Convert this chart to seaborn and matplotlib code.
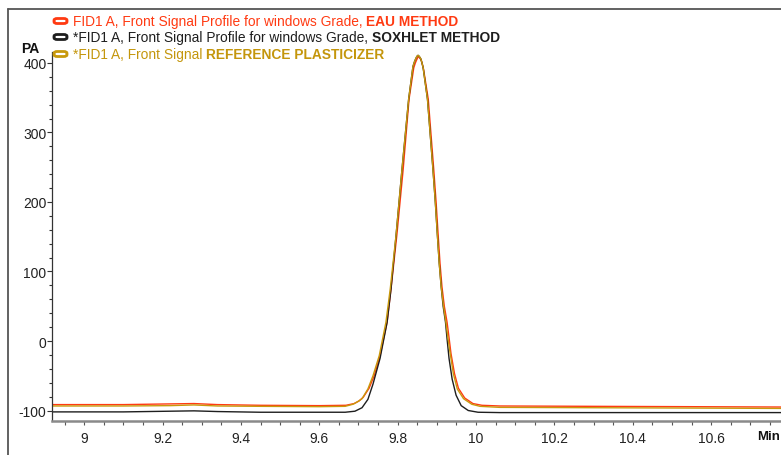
import matplotlib
matplotlib.use("Agg")
import matplotlib.pyplot as plt
import seaborn as sns
import pandas as pd
from matplotlib.patches import FancyBboxPatch
from matplotlib.lines import Line2D
from matplotlib.ticker import MultipleLocator

# ---- data ----
series_names = ["EAU METHOD", "SOXHLET METHOD", "REFERENCE PLASTICIZER"]

red_x = [8.918, 9.10, 9.22, 9.28, 9.34, 9.45, 9.60, 9.668, 9.689, 9.702, 9.712, 9.727, 9.740, 9.755,
         9.773, 9.783, 9.798, 9.814, 9.829, 9.841, 9.845, 9.848, 9.851, 9.853, 9.856, 9.860, 9.863,
         9.866, 9.878, 9.892, 9.898, 9.903, 9.908, 9.913, 9.919, 9.926, 9.931, 9.936, 9.945, 9.955,
         9.971, 9.992, 10.015, 10.061, 10.30, 10.55, 10.778]
red_y = [-91.5, -91.5, -90.5, -90, -91.5, -92.5, -93, -92.5, -90, -86, -81, -68, -50, -21, 27, 75,
         153, 247, 348, 393, 400, 404, 407.5, 409, 407.5, 404, 398, 391, 348, 247, 200, 155, 112,
         78, 50, 27, 5, -18, -47, -68, -82, -90, -92.5, -93.5, -94, -94.5, -95]

black_x = [8.918, 9.10, 9.22, 9.28, 9.34, 9.45, 9.60, 9.666, 9.691, 9.709, 9.724, 9.737, 9.755,
           9.773, 9.783, 9.796, 9.811, 9.828, 9.839, 9.843, 9.846, 9.849, 9.852, 9.855, 9.859,
           9.862, 9.865, 9.876, 9.890, 9.896, 9.901, 9.906, 9.911, 9.916, 9.922, 9.926, 9.931,
           9.939, 9.949, 9.962, 9.980, 10.005, 10.061, 10.30, 10.55, 10.778]
black_y = [-102, -102, -101, -100.5, -101.5, -102.5, -102.5, -102.5, -101, -96, -84, -62, -25, 27,
           75, 153, 247, 348, 395, 402, 406, 409.5, 411, 409.5, 406, 400, 393, 348, 247, 200, 155,
           112, 78, 50, 27, 3, -25, -55, -78, -93, -100, -102.5, -103, -103, -103, -103]

gold_x = [8.918, 9.10, 9.22, 9.28, 9.34, 9.45, 9.60, 9.666, 9.686, 9.699, 9.709, 9.724, 9.737,
          9.753, 9.770, 9.781, 9.796, 9.811, 9.828, 9.839, 9.843, 9.846, 9.849, 9.852, 9.855,
          9.859, 9.862, 9.865, 9.876, 9.890, 9.896, 9.901, 9.906, 9.911, 9.917, 9.923, 9.928,
          9.934, 9.942, 9.952, 9.968, 9.989, 10.010, 10.061, 10.30, 10.55, 10.778]
gold_y = [-93.5, -93.5, -93, -92, -93.5, -94, -94.5, -94, -91, -87, -83, -69, -50, -21, 27, 75,
          153, 247, 348, 395, 402, 406, 409.5, 411, 409.5, 406, 400, 393, 348, 247, 200, 155, 112,
          78, 50, 27, 5, -18, -47, -69, -83, -91, -94, -95.5, -96, -96.5, -97]

x_ticks = [9, 9.2, 9.4, 9.6, 9.8, 10, 10.2, 10.4, 10.6]
x_tick_labels = ["9", "9.2", "9.4", "9.6", "9.8", "10", "10.2", "10.4", "10.6"]
y_ticks = [-100, 0, 100, 200, 300, 400]
y_tick_labels = ["-100", "0", "100", "200", "300", "400"]

legend_prefix = ["FID1 A, Front Signal Profile for windows Grade, ",
                 "*FID1 A, Front Signal Profile for windows Grade, ",
                 "*FID1 A, Front Signal "]

colors = {"EAU METHOD": "#FF3A12", "SOXHLET METHOD": "#1E1E1E", "REFERENCE PLASTICIZER": "#C8990C"}
text_colors = ["#FF3A12", "#1E1E1E", "#C4960C"]

df = pd.concat([
    pd.DataFrame({"t": red_x, "v": red_y, "s": series_names[0]}),
    pd.DataFrame({"t": black_x, "v": black_y, "s": series_names[1]}),
    pd.DataFrame({"t": gold_x, "v": gold_y, "s": series_names[2]}),
], ignore_index=True)

sns.set_style("white")
plt.rcParams["font.family"] = ["Liberation Sans", "DejaVu Sans"]
plt.rcParams["axes.unicode_minus"] = False

fig = plt.figure(figsize=(7.81, 4.56), dpi=100)
W, H = 781, 456
ax = fig.add_axes([52 / W, 1 - 422 / H, 729 / W, (422 - 53) / H])

sns.lineplot(data=df, x="t", y="v", hue="s", palette=colors, sort=False, estimator=None,
             linewidth=1.0, legend=False, ax=ax, hue_order=series_names)

ax.set_xlim(8.918, 10.778)
ax.set_ylim(-115.1, 415.8)
ax.set_xlabel("")
ax.set_ylabel("")
for s in ["top", "right"]:
    ax.spines[s].set_visible(False)
ax.spines["left"].set_color("#333333")
ax.spines["left"].set_linewidth(0.9)
ax.spines["bottom"].set_color("#8a8a8a")
ax.spines["bottom"].set_linewidth(1.8)

ax.set_xticks(x_ticks)
ax.set_xticklabels(x_tick_labels)
ax.set_yticks(y_ticks)
ax.set_yticklabels(y_tick_labels)
ax.xaxis.set_minor_locator(MultipleLocator(0.05))
ax.yaxis.set_minor_locator(MultipleLocator(20))
ax.tick_params(axis="x", which="both", direction="out", length=3, width=0.8, color="#555555",
               labelsize=10, labelcolor="#222222", pad=4, bottom=True)
ax.tick_params(axis="y", which="major", direction="out", length=3.5, width=0.8, color="#333333",
               labelsize=10, labelcolor="#222222", pad=0.5, left=True)
ax.tick_params(axis="y", which="minor", direction="out", length=2.5, width=0.8, color="#333333", left=True)

# axis unit labels
fig.text(30 / W, 1 - 49 / H, "PA", fontsize=10, fontweight="bold", ha="center", va="center", color="#111111")
fig.text(780.5 / W, 1 - 437 / H, "Min", fontsize=9.5, fontweight="bold", ha="right", va="center",
         color="#111111")

# outer frame
fig.add_artist(Line2D([8 / W, 8 / W], [0, 1 - 10 / H], color="#555555", linewidth=1.3,
                      transform=fig.transFigure))
fig.add_artist(Line2D([8 / W, 1.0], [1 - 10 / H, 1 - 10 / H], color="#555555", linewidth=1.3,
                      transform=fig.transFigure))

# legend (rounded open boxes + two-part text)
renderer = fig.canvas.get_renderer()
rows_y = [22, 38, 55]
for i in range(3):
    yc = rows_y[i]
    box = FancyBboxPatch((54 / W, 1 - (yc + 2.5) / H), 13 / W, 5 / H,
                         boxstyle="round,pad=0,rounding_size=0.004",
                         transform=fig.transFigure, fill=False,
                         edgecolor=colors[series_names[i]], linewidth=2.0)
    fig.add_artist(box)
    t1 = fig.text(73 / W, 1 - yc / H, legend_prefix[i], fontsize=9.9, color=text_colors[i],
                  ha="left", va="center")
    bb = t1.get_window_extent(renderer=renderer)
    fig.text(bb.x1 / W, 1 - yc / H, series_names[i], fontsize=9.9, fontweight="bold",
             color=text_colors[i], ha="left", va="center")

fig.savefig("out.png", dpi=100)
